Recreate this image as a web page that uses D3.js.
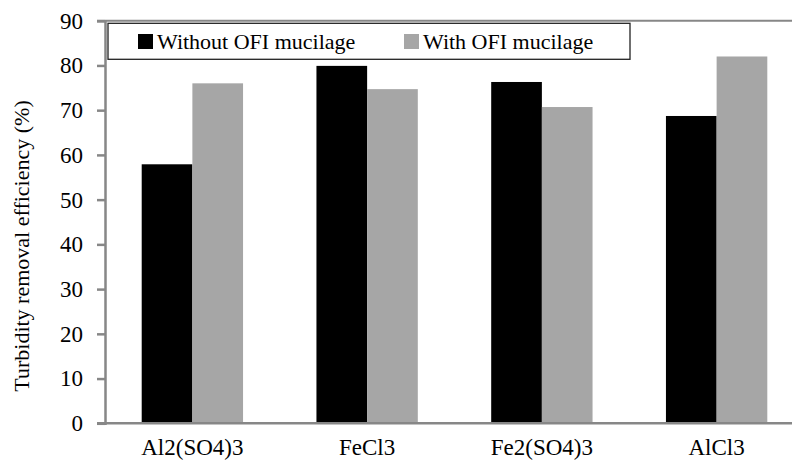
<!DOCTYPE html>
<html>
<head>
<meta charset="utf-8">
<script src="https://cdn.jsdelivr.net/npm/d3@7"></script>
<style>
  body { margin: 0; background: #fff; }
  svg { display: block; }
</style>
</head>
<body>
<svg id="chart" width="792" height="464"></svg>
<script>
const categories = ["Al2(SO4)3", "FeCl3", "Fe2(SO4)3", "AlCl3"];
const seriesNames = ["Without OFI mucilage", "With OFI mucilage"];
const withoutValues = [57.9, 79.9, 76.3, 68.7];
const withValues = [76.0, 74.7, 70.7, 82.0];
const yTicks = [0, 10, 20, 30, 40, 50, 60, 70, 80, 90];
const yLabel = "Turbidity removal efficiency (%)";

const colors = ["#000000", "#a6a6a6"];
const axisColor = "#878787";
const FONT = "'Liberation Serif', 'Times New Roman', 'Nimbus Roman', 'FreeSerif', 'Noto Serif', 'DejaVu Serif', serif";

const svg = d3.select("#chart");
const plotLeft = 105, plotRight = 804, plotTop = 20.7, plotBottom = 423.3;

const y = d3.scaleLinear().domain([0, 90]).range([plotBottom, plotTop]);
const x = d3.scaleBand().domain(categories).range([plotLeft, plotRight])
  .paddingInner(0.42).paddingOuter(0.21);
const xs = d3.scaleBand().domain([0, 1]).range([0, x.bandwidth()]).padding(0);

const data = categories.map((c, i) => ({ c, vals: [withoutValues[i], withValues[i]] }));

// top border line
svg.append("line")
  .attr("x1", plotLeft - 8).attr("x2", 792)
  .attr("y1", y(90)).attr("y2", y(90))
  .attr("stroke", axisColor).attr("stroke-width", 2);

// bars
const g = svg.append("g");
data.forEach(d => {
  d.vals.forEach((v, k) => {
    g.append("rect")
      .attr("x", x(d.c) + xs(k))
      .attr("y", y(v))
      .attr("width", xs.bandwidth())
      .attr("height", y(0) - y(v))
      .attr("fill", colors[k]);
  });
});

// y axis
const yAxis = d3.axisLeft(y).tickValues(yTicks).tickSize(8).tickPadding(14).tickFormat(d3.format("d"));
const ya = svg.append("g").attr("transform", `translate(${plotLeft},0)`).call(yAxis);
ya.attr("font-family", null).attr("font-size", null);
ya.select(".domain").attr("stroke", axisColor).attr("stroke-width", 2.5);
ya.selectAll(".tick line").attr("stroke", axisColor).attr("stroke-width", 2.5);
ya.selectAll(".tick text").style("font-family", FONT).style("font-size", "23px").attr("fill", "#000");

// x axis line
svg.append("line")
  .attr("x1", plotLeft - 8).attr("x2", 792)
  .attr("y1", plotBottom).attr("y2", plotBottom)
  .attr("stroke", axisColor).attr("stroke-width", 2.5);

// category labels
svg.selectAll(".cat").data(categories).enter().append("text")
  .attr("class", "cat")
  .attr("x", d => x(d) + x.bandwidth() / 2)
  .attr("y", 455)
  .attr("text-anchor", "middle")
  .style("font-family", FONT).style("font-size", "23px")
  .text(d => d);

// y label
svg.append("text")
  .attr("transform", `translate(29,246) rotate(-90)`)
  .attr("text-anchor", "middle")
  .style("font-family", FONT).style("font-size", "22px")
  .text(yLabel);

// legend
const lg = svg.append("g");
lg.append("rect")
  .attr("x", 108).attr("y", 23.3).attr("width", 522).attr("height", 36)
  .attr("fill", "#fff").attr("stroke", "#222").attr("stroke-width", 1.3);
const legendX = [138, 404];
seriesNames.forEach((n, k) => {
  lg.append("rect").attr("x", legendX[k]).attr("y", 34).attr("width", 15).attr("height", 15).attr("fill", colors[k]);
  lg.append("text").attr("x", legendX[k] + 19).attr("y", 49)
    .style("font-family", FONT).style("font-size", "22px").text(n);
});
</script>
</body>
</html>
